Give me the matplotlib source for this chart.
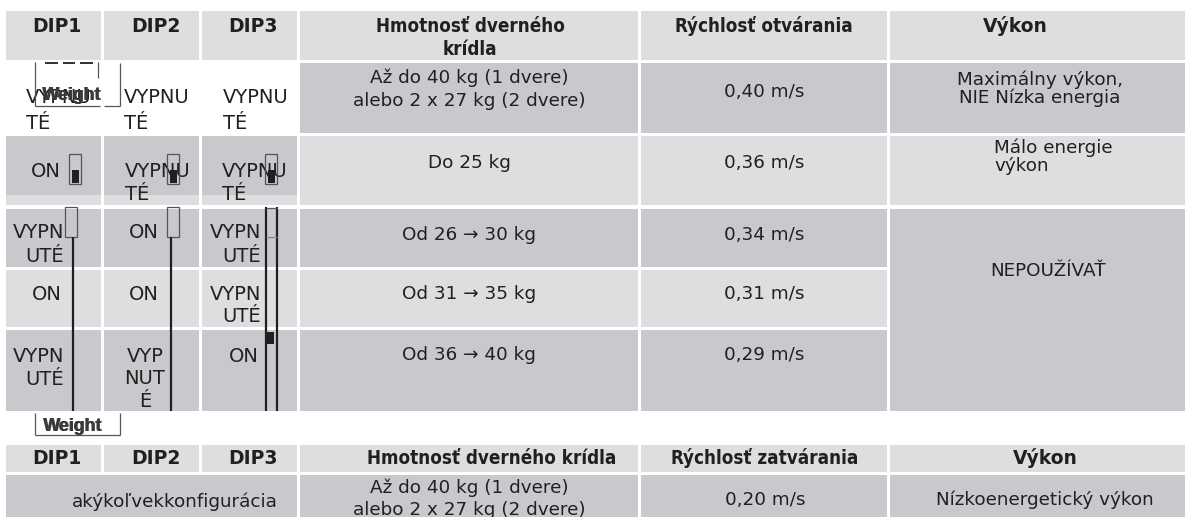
import matplotlib
matplotlib.use("Agg")
import matplotlib.pyplot as plt
from matplotlib.patches import Rectangle
from matplotlib import font_manager as fm
from matplotlib.font_manager import FontProperties

# ---------------- data ----------------
headers_top = ["DIP1", "DIP2", "DIP3", "Hmotnosť dverného\nkrídla", "Rýchlosť otvárania", "Výkon"]
dip1 = ["VYPNU\nTÉ", "ON", "VYPN\nUTÉ", "ON", "VYPN\nUTÉ"]
dip2 = ["VYPNU\nTÉ", "VYPNU\nTÉ", "ON", "ON", "VYP\nNUT\nÉ"]
dip3 = ["VYPNU\nTÉ", "VYPNU\nTÉ", "VYPN\nUTÉ", "VYPN\nUTÉ", "ON"]
weights = ["Až do 40 kg (1 dvere)\nalebo 2 x 27 kg (2 dvere)", "Do 25 kg",
           "Od 26 → 30 kg", "Od 31 → 35 kg", "Od 36 → 40 kg"]
speeds_open = ["0,40 m/s", "0,36 m/s", "0,34 m/s", "0,31 m/s", "0,29 m/s"]
performance = ["Maximálny výkon,\nNIE Nízka energia", "Málo energie\nvýkon", "NEPOUŽÍVAŤ"]
weight_label = "Weight"

headers_bottom = ["DIP1", "DIP2", "DIP3", "Hmotnosť dverného krídla", "Rýchlosť zatvárania", "Výkon"]
any_config = "akýkoľvekkonfigurácia"
weight_close = "Až do 40 kg (1 dvere)\nalebo 2 x 27 kg (2 dvere)"
speed_close = "0,20 m/s"
perf_close = "Nízkoenergetický výkon"

# ---------------- fonts ----------------
def find(name):
    for f in fm.fontManager.ttflist:
        if f.fname.endswith(name):
            return f.fname
    return None

cond_b = find("DejaVuSansCondensed-Bold.ttf")
FR = FontProperties(family="DejaVu Sans", size=13.2)          # body text
FC = FontProperties(family="DejaVu Sans", size=14.0)          # DIP cells
FBW = FontProperties(family="DejaVu Sans", weight="bold", size=13.5)
if cond_b:
    FBN = FontProperties(fname=cond_b, size=13.5)
else:
    FBN = FontProperties(family="DejaVu Sans", weight="bold", size=12.2)
FW = FontProperties(family=["Liberation Sans", "DejaVu Sans"], weight="bold", size=12.8)

INK = "#231f20"
LIGHT = "#dddee0"
DARK = "#c8c9cc"

W, H = 1185, 517
fig = plt.figure(figsize=(W / 100, H / 100), dpi=100)
ax = fig.add_axes([0, 0, 1, 1])
ax.set_xlim(0, W)
ax.set_ylim(H, 0)
ax.axis("off")

def cell(x0, x1, y0, y1, color):
    ax.add_patch(Rectangle((x0, y0), x1 - x0, y1 - y0, facecolor=color,
                           edgecolor="none", zorder=1))

def lines(x, ha, base, step, s, fp, z=3):
    for i, ln in enumerate(s.split("\n")):
        ax.text(x, base + i * step, ln, ha=ha, va="baseline", fontproperties=fp,
                color=INK, zorder=z)

# ---------------- layout ----------------
cols = [(6, 101), (104, 199), (202, 297), (300, 638), (641, 887), (890, 1185)]
rows = [(63, 133), (136, 205), (209, 267), (270, 327), (330, 411)]
head = (11, 60)

# header 1
for c, (x0, x1) in enumerate(cols):
    cell(x0, x1, head[0], head[1], LIGHT)
head_x = [57, 156, 253, 470, 764, 1015]
head_fp = [FBW, FBW, FBW, FBN, FBN, FBW]
for c, s in enumerate(headers_top):
    lines(head_x[c], "center", 32, 23, s, head_fp[c])

# body backgrounds
row_bg = [DARK, LIGHT, DARK, LIGHT, DARK]
for r, (y0, y1) in enumerate(rows):
    for c in range(5):
        if r == 0 and c < 3:
            continue  # white cells
        if r == 1 and c < 3:
            cell(cols[c][0], cols[c][1], y0, 195, DARK)
            cell(cols[c][0], cols[c][1], 195, y1, LIGHT)
            continue
        cell(cols[c][0], cols[c][1], y0, y1, row_bg[r])
cell(cols[5][0], cols[5][1], rows[0][0], rows[0][1], DARK)
cell(cols[5][0], cols[5][1], rows[1][0], rows[1][1], LIGHT)
cell(cols[5][0], cols[5][1], rows[2][0], rows[4][1], DARK)

# DIP texts
dip_layout = [
    [(26, "left", 103, 26), (124, "left", 103, 26), (223, "left", 103, 26)],
    [(31, "left", 177, 23), (125, "left", 177, 23), (222, "left", 177, 23)],
    [(64, "right", 238, 24), (129, "left", 238, 24), (261, "right", 238, 24)],
    [(32, "left", 300, 22), (129, "left", 300, 22), (261, "right", 300, 22)],
    [(64, "right", 362, 23), (145, "center", 362, 22.5), (229, "left", 362, 23)],
]
for r in range(5):
    for c, vals in enumerate([dip1, dip2, dip3]):
        x, ha, b, st = dip_layout[r][c]
        lines(x, ha, b, st, vals[r], FC)

weight_base = [(83, 23), (168, 0), (240, 0), (299, 0), (360, 0)]
speed_base = [97, 168, 240, 299, 360]
for r in range(5):
    b, st = weight_base[r]
    lines(469, "center", b, st, weights[r], FR)
    lines(764, "center", speed_base[r], 0, speeds_open[r], FR)
lines(1040, "center", 85, 18, performance[0], FR)
lines(994, "left", 153, 18, performance[1], FR)
lines(1048, "center", 276, 0, performance[2], FR)

# ---------------- switch graphics ----------------
GR = "#555555"
def seg(xs, ys, lw=1.4, color=INK, z=5):
    ax.plot(xs, ys, color=color, lw=lw, solid_capstyle="butt", zorder=z)

# row 1 "Weight" artefact in DIP1
seg([35, 35], [62, 106], lw=0.9, color=GR)
seg([35, 100], [106, 106], lw=0.9, color=GR)
seg([104, 120], [106, 106], lw=0.9, color=GR)
seg([120, 120], [63, 106], lw=0.9, color=GR)
seg([98, 98], [62, 78], lw=0.9, color=GR)
for a, b in [(45, 58), (63, 75), (80, 93)]:
    seg([a, b], [62.5, 62.5], lw=1.3)
for dx in (0, 1.4):
    ax.text(42 + dx, 100, weight_label, ha="left", va="baseline", fontproperties=FW,
            color="#3a3a3a", zorder=6)

# row 2 switches (ON position fill at bottom)
for x0 in (69, 167, 265):
    ax.add_patch(Rectangle((x0, 154), 12, 30, facecolor="none", edgecolor=GR, lw=0.9, zorder=5))
    ax.add_patch(Rectangle((x0 + 2.5, 170), 7, 13, facecolor=INK, edgecolor="none", zorder=6))

# rows 3-5 switch outlines and lines
for x0, xl in ((65, 73), (167, 171)):
    ax.add_patch(Rectangle((x0, 207), 12, 30, facecolor="none", edgecolor=GR, lw=0.9, zorder=5))
    seg([xl, xl], [237, 411], lw=1.6)
seg([266, 266], [207, 411], lw=1.6)
seg([277, 277], [207, 411], lw=1.6)
seg([266, 277], [207.5, 207.5], lw=0.9, color=GR)
seg([266, 277], [237, 237], lw=0.9, color="#888888")
ax.add_patch(Rectangle((266, 332), 8, 12, facecolor=INK, edgecolor="none", zorder=6))

# lower "Weight" label
seg([35, 35], [413, 435], lw=0.9, color=GR)
seg([35, 120], [435, 435], lw=0.9, color=GR)
seg([120, 120], [413, 435], lw=0.9, color=GR)
for dx in (0, 1.0):
    ax.text(43 + dx, 431, weight_label, ha="left", va="baseline", fontproperties=FW,
            color="#3a3a3a", zorder=6)

# ---------------- second table ----------------
head2 = (445, 472)
row2 = (475, 530)
for c, (x0, x1) in enumerate(cols):
    cell(x0, x1, head2[0], head2[1], LIGHT)
head2_x = [57, 156, 253, 492, 765, 1045]
for c, s in enumerate(headers_bottom):
    lines(head2_x[c], "center", 464, 0, s, head_fp[c])
cell(cols[0][0], cols[2][1], row2[0], row2[1], DARK)
for c in (3, 4, 5):
    cell(cols[c][0], cols[c][1], row2[0], row2[1], DARK)
lines(175, "center", 507, 0, any_config, FR)
lines(469, "center", 493, 22, weight_close, FR)
lines(765, "center", 505, 0, speed_close, FR)
lines(1045, "center", 505, 0, perf_close, FR)

fig.savefig("out.png", dpi=100)
